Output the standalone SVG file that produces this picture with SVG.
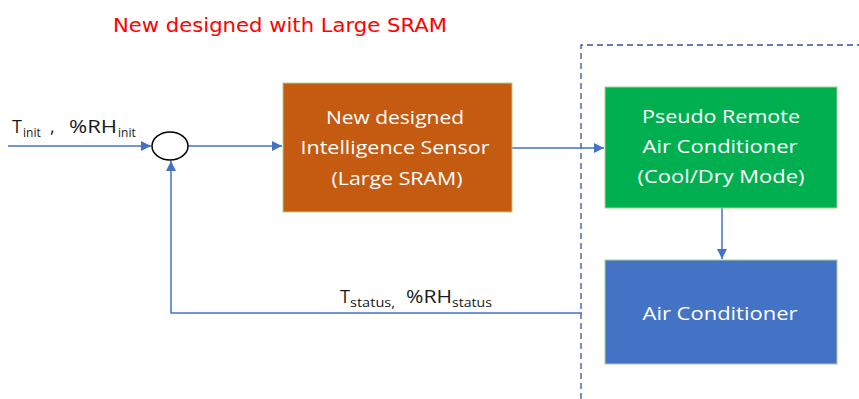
<svg xmlns="http://www.w3.org/2000/svg" width="859" height="399" viewBox="0 0 859 399">
<defs>
<style>
.box{stroke:#A9D18E;stroke-width:1}
.bt{font-family:"Open Sans","Liberation Sans",sans-serif;font-size:19px;fill:#ffffff;text-anchor:middle}
.lbl{font-family:"Open Sans","Liberation Sans",sans-serif;font-size:18px;fill:#1a1a1a}
.sub{font-family:"Open Sans","Liberation Sans",sans-serif;font-size:12px;fill:#1a1a1a}
.conn{stroke:#4472C4;stroke-width:1.5;fill:none}
.dash{stroke:#2F5597;stroke-width:1.3;fill:none;stroke-dasharray:6 4}
</style>
<marker id="arr" viewBox="0 0 10 10" refX="10" refY="5" markerWidth="10" markerHeight="10" markerUnits="userSpaceOnUse" orient="auto">
<path d="M0,0 L10,5 L0,10 z" fill="#4472C4"/>
</marker>
</defs>
<rect width="859" height="399" fill="#ffffff"/>
<text x="113" y="32" font-family="DejaVu Sans, Verdana, sans-serif" font-size="19" fill="#FF0000" textLength="334" lengthAdjust="spacingAndGlyphs">New designed with Large SRAM</text>
<g id="boundary">
<path class="dash" d="M581,399 L581,45 L859,45"/>
</g>
<g id="connectors">
<line class="conn" x1="8" y1="146" x2="151" y2="146" marker-end="url(#arr)"/>
<line class="conn" x1="188" y1="146" x2="282" y2="146" marker-end="url(#arr)"/>
<line class="conn" x1="512" y1="148" x2="604" y2="148" marker-end="url(#arr)"/>
<line class="conn" x1="722" y1="208" x2="722" y2="259" marker-end="url(#arr)"/>
<polyline class="conn" points="582,313 171,313 171,161" marker-end="url(#arr)"/>
</g>
<g id="sum">
<ellipse cx="170" cy="146" rx="18" ry="14" fill="#ffffff" stroke="#000000" stroke-width="1.5"/>
</g>
<g id="sensor">
<rect class="box" x="283" y="83" width="229" height="129" fill="#C55A11"/>
<text class="bt" x="395" y="124" textLength="138" lengthAdjust="spacingAndGlyphs">New designed</text>
<text class="bt" x="395" y="154" textLength="189" lengthAdjust="spacingAndGlyphs">Intelligence Sensor</text>
<text class="bt" x="397" y="185" textLength="131" lengthAdjust="spacingAndGlyphs">(Large SRAM)</text>
</g>
<g id="pseudo">
<rect class="box" x="605" y="87" width="232" height="121" fill="#00B050"/>
<text class="bt" x="721" y="123" textLength="158" lengthAdjust="spacingAndGlyphs">Pseudo Remote</text>
<text class="bt" x="720" y="153" textLength="155" lengthAdjust="spacingAndGlyphs">Air Conditioner</text>
<text class="bt" x="721" y="183" textLength="167" lengthAdjust="spacingAndGlyphs">(Cool/Dry Mode)</text>
</g>
<g id="ac">
<rect class="box" x="605" y="260" width="232" height="104" fill="#4472C4"/>
<text class="bt" x="720" y="320" textLength="155" lengthAdjust="spacingAndGlyphs">Air Conditioner</text>
</g>
<g id="labels">
<text class="lbl" x="12" y="133">T</text>
<text class="sub" x="23" y="137">init</text>
<text class="lbl" x="50" y="133">,</text>
<text class="lbl" x="69" y="133" textLength="48" lengthAdjust="spacingAndGlyphs">%RH</text>
<text class="sub" x="118" y="137">init</text>
<text class="lbl" x="340" y="303">T</text>
<text class="sub" x="350" y="307" textLength="45" lengthAdjust="spacingAndGlyphs">status,</text>
<text class="lbl" x="406" y="303" textLength="46" lengthAdjust="spacingAndGlyphs">%RH</text>
<text class="sub" x="452" y="307" textLength="40" lengthAdjust="spacingAndGlyphs">status</text>
</g>
</svg>
